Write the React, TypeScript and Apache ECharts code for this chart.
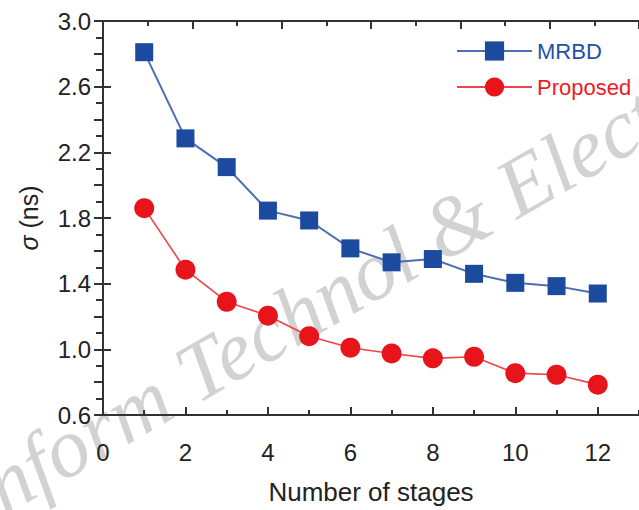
import React, { useEffect, useRef } from "react";
import * as echarts from "echarts";

const stages = [1, 2, 3, 4, 5, 6, 7, 8, 9, 10, 11, 12];
const mrbd = [2.81, 2.285, 2.11, 1.845, 1.785, 1.615, 1.53, 1.55, 1.46, 1.405, 1.385, 1.34];
const proposed = [1.86, 1.485, 1.29, 1.205, 1.08, 1.01, 0.975, 0.945, 0.955, 0.855, 0.845, 0.785];
const seriesNames = ["MRBD", "Proposed"];
const xTitle = "Number of stages";
const yTitle = "{i|σ} (ns)";
const watermark = "Inform Technol & Electron";

const AXIS = "#333333";
const TEXT = "#222222";
const BLUE = "#1b4a9e";
const BLUE_LINE = "#4d6db5";
const RED = "#e8141c";
const RED_LINE = "#ef4249";
const FONT = "Liberation Sans, Arial, sans-serif";

export default function App() {
  const ref = useRef<HTMLDivElement>(null);
  useEffect(() => {
    if (!ref.current) return;
    const chart = echarts.init(ref.current, null, { renderer: "svg" });
    const tickStyle = { color: AXIS, width: 2 };
    chart.setOption({
      animation: false,
      backgroundColor: "#ffffff",
      grid: { left: 103, top: 21, right: -7, bottom: 95, containLabel: false },
      graphic: [
        {
          type: "text",
          x: -34,
          y: 505,
          rotation: Math.PI / 6,
          z: 0,
          silent: true,
          style: {
            text: watermark,
            font: 'italic 84px "Liberation Serif", "Times New Roman", serif',
            fill: "#d2d2d2",
            align: "left",
            verticalAlign: "middle",
          },
        },
      ],
      legend: {
        orient: "vertical",
        left: 456,
        top: 40,
        padding: 0,
        itemWidth: 75,
        itemHeight: 24,
        itemGap: 14,
        textStyle: { fontSize: 22, fontFamily: FONT },
        data: [
          { name: seriesNames[0], textStyle: { color: "#1f4fa8" } },
          { name: seriesNames[1], textStyle: { color: "#ec1c24" } },
        ],
      },
      xAxis: [
        {
          type: "value",
          position: "bottom",
          min: 0,
          max: 13,
          interval: 2,
          name: xTitle,
          nameLocation: "middle",
          nameGap: 64,
          nameTextStyle: { fontSize: 26, color: TEXT, fontFamily: FONT },
          axisLine: { show: true, lineStyle: { color: AXIS, width: 2 } },
          axisTick: { show: true, inside: true, length: 8, lineStyle: tickStyle },
          axisLabel: {
            fontSize: 24,
            color: TEXT,
            fontFamily: FONT,
            margin: 25,
            showMaxLabel: false,
            formatter: (v: number) => String(Math.round(v)),
          },
          splitLine: { show: false },
        },
        {
          type: "value",
          position: "bottom",
          min: 0,
          max: 13,
          interval: 1,
          axisLine: { show: false },
          axisTick: { show: true, inside: true, length: 5, lineStyle: tickStyle },
          axisLabel: { show: false },
          splitLine: { show: false },
        },
        {
          type: "value",
          position: "top",
          min: 0,
          max: 12,
          interval: 2,
          axisLine: { show: true, lineStyle: { color: AXIS, width: 2 } },
          axisTick: { show: true, inside: true, length: 8, lineStyle: tickStyle },
          minorTick: { show: true, splitNumber: 2, length: 5, lineStyle: tickStyle },
          axisLabel: { show: false },
          splitLine: { show: false },
        },
      ],
      yAxis: [
        {
          type: "value",
          position: "left",
          min: 0.6,
          max: 3.0,
          interval: 0.4,
          name: yTitle,
          nameLocation: "middle",
          nameGap: 62,
          nameRotate: 90,
          nameTextStyle: {
            fontSize: 25,
            color: TEXT,
            fontFamily: FONT,
            rich: { i: { fontStyle: "italic", fontSize: 25, color: TEXT, fontFamily: FONT } },
          },
          axisLine: { show: true, lineStyle: { color: AXIS, width: 2 } },
          axisTick: { show: true, inside: true, length: 8, lineStyle: tickStyle },
          axisLabel: {
            fontSize: 24,
            color: TEXT,
            fontFamily: FONT,
            margin: 12,
            formatter: (v: number) => v.toFixed(1),
          },
          splitLine: { show: false },
        },
        {
          type: "value",
          position: "right",
          min: 0.6,
          max: 3.0,
          interval: 0.2,
          axisLine: { show: true, lineStyle: { color: AXIS, width: 2 } },
          axisTick: { show: true, inside: true, length: 9, lineStyle: tickStyle },
          minorTick: { show: true, splitNumber: 2, length: 7, lineStyle: tickStyle },
          axisLabel: { show: false },
          splitLine: { show: false },
        },
      ],
      series: [
        {
          name: seriesNames[0],
          type: "line",
          xAxisIndex: 0,
          yAxisIndex: 0,
          z: 3,
          data: stages.map((s, i) => [s, mrbd[i]]),
          symbol: "rect",
          symbolSize: 18,
          itemStyle: { color: BLUE },
          lineStyle: { color: BLUE_LINE, width: 2 },
        },
        {
          name: seriesNames[1],
          type: "line",
          xAxisIndex: 0,
          yAxisIndex: 0,
          z: 3,
          data: stages.map((s, i) => [s, proposed[i]]),
          symbol: "circle",
          symbolSize: 20,
          itemStyle: { color: RED },
          lineStyle: { color: RED_LINE, width: 1.6 },
        },
      ],
    });
    return () => chart.dispose();
  }, []);
  return (
    <div
      ref={ref}
      style={{ position: "fixed", left: 0, top: 0, width: 639, height: 510, overflow: "hidden" }}
    />
  );
}
